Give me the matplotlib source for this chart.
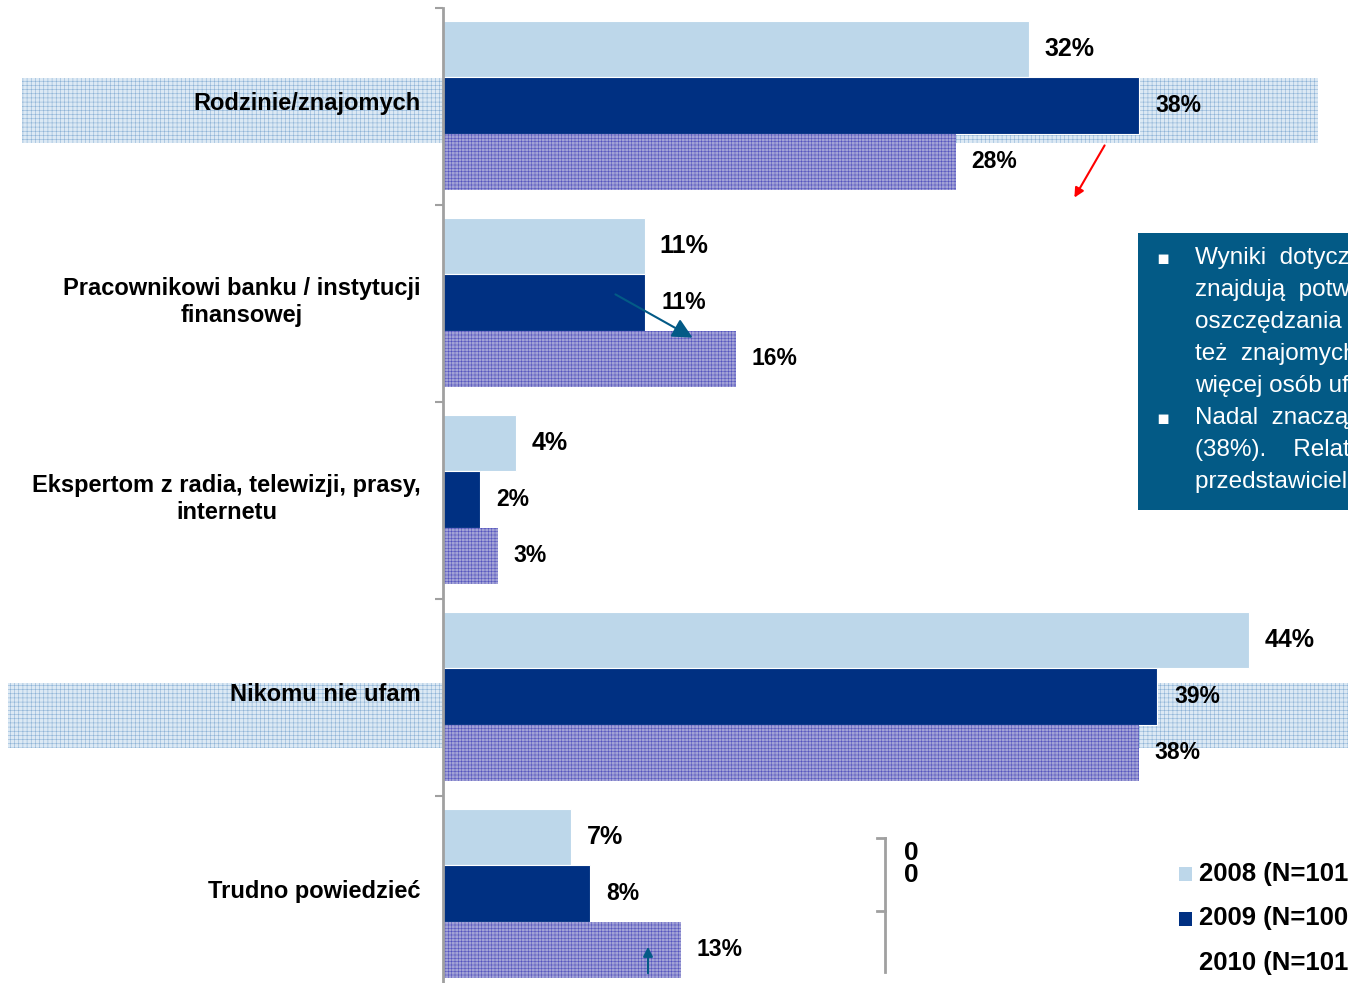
import numpy as np
import matplotlib
matplotlib.use("Agg")
from matplotlib import pyplot as plt
from matplotlib.patches import Rectangle
from matplotlib.lines import Line2D

categories = ["Rodzinie/znajomych",
              "Pracownikowi banku / instytucji\nfinansowej",
              "Ekspertom z radia, telewizji, prasy,\ninternetu",
              "Nikomu nie ufam",
              "Trudno powiedzieć"]
v2008 = [32, 11, 4, 44, 7]
v2009 = [38, 11, 2, 39, 8]
v2010 = [28, 16, 3, 38, 13]
series_labels = ["2008 (N=1019)", "2009 (N=1006)", "2010 (N=1016)"]
box_lines = ["Wyniki  dotyczące  zaufania",
             "znajdują  potwierdzenie  w",
             "oszczędzania  w  bankach",
             "też  znajomych  i  rodziny",
             "więcej osób ufa bankom",
             "Nadal  znacząca  grupa",
             "(38%).    Relatywnie",
             "przedstawicielom banków"]

light = "#BDD7EA"
navy = "#003082"
lav = "#A2A2D6"
teal = "#035A86"
grey = "#A0A0A0"

plt.rcParams["hatch.linewidth"] = 0.4

W, H = 1348, 983
fig = plt.figure(figsize=(W / 100, H / 100), dpi=100)
ax = fig.add_axes([443 / W, 0, 1 - 443 / W, (H - 8) / H])
ax.patch.set_alpha(0)

y = np.arange(len(categories))
h = 0.285
b1 = ax.barh(y + 0.21, v2008, height=h, color=light, edgecolor="white", linewidth=0.8)
b2 = ax.barh(y + 0.495, v2009, height=h, color=navy, edgecolor="white", linewidth=0.8)
b3 = ax.barh(y + 0.78, v2010, height=h, color=lav, edgecolor="#5454BE",
             linewidth=0, hatch="+++++")

lf = ["Liberation Sans Narrow", "Liberation Sans", "DejaVu Sans"]
ax.bar_label(b1, labels=[f"{v}%" for v in v2008], padding=11,
             fontsize=18, fontweight="bold", family=lf)
ax.bar_label(b2, labels=[f"{v}%" for v in v2009], padding=12,
             fontsize=16.5, fontweight="bold", family=lf)
ax.bar_label(b3, labels=[f"{v}%" for v in v2010], padding=11,
             fontsize=16.5, fontweight="bold", family=lf)

for s in ["top", "right", "bottom"]:
    ax.spines[s].set_visible(False)
ax.spines["left"].set_color(grey)
ax.spines["left"].set_linewidth(2)
ax.set_xticks([])
ax.set_yticks(range(6))
ax.set_yticklabels([])
ax.tick_params(axis="y", which="major", length=6, width=1.5, color=grey)
ax.set_yticks(y + 0.47, minor=True)
ax.set_yticklabels(categories, minor=True, fontsize=17, fontweight="bold",
                   family=lf, multialignment="center")
ax.tick_params(axis="y", which="minor", length=0, pad=16)
ax.set_xlim(0, (W - 443) / 18.32)
ax.set_ylim((H - 8) / 197, 0)

# highlighted rows (behind bars)
for x0, x1, y0, y1 in [(22, 1318, 78, 143), (8, 1348, 683, 748)]:
    ax.add_artist(Rectangle((x0 / W, 1 - y1 / H), (x1 - x0) / W, (y1 - y0) / H,
                            transform=fig.transFigure, facecolor="#DCE9F4",
                            edgecolor="#8DB3D6", linewidth=0, hatch="++++",
                            clip_on=False, zorder=0.5))

# comment box
fig.add_artist(Rectangle((1138 / W, 1 - 510 / H), (W - 1138) / W, (510 - 233) / H,
                         transform=fig.transFigure, facecolor=teal,
                         edgecolor="none", zorder=6))
for i, line in enumerate(box_lines):
    yy = 1 - (258 + 32 * i) / H
    fig.text(1195 / W, yy, line, color="white", fontsize=17.5, va="center",
             family=["Liberation Sans", "DejaVu Sans"], zorder=7)
for yy in (258, 418):
    fig.text(1163 / W, 1 - yy / H, "▪", color="white", fontsize=14,
             va="center", ha="center", family="DejaVu Sans", zorder=7)

# arrows
ax.annotate("", xy=(1073, H - 200), xytext=(1106, H - 143),
            xycoords="figure pixels", textcoords="figure pixels",
            arrowprops=dict(arrowstyle="-|>", color="red", lw=1.5,
                            mutation_scale=14), zorder=8)
ax.annotate("", xy=(695, H - 339), xytext=(613, H - 293),
            xycoords="figure pixels", textcoords="figure pixels",
            arrowprops=dict(arrowstyle="-|>", color=teal, lw=1.5,
                            mutation_scale=30), zorder=8)
ax.annotate("", xy=(648, H - 944), xytext=(648, H - 976),
            xycoords="figure pixels", textcoords="figure pixels",
            arrowprops=dict(arrowstyle="-|>", color=teal, lw=1.5,
                            mutation_scale=14), zorder=8)

# bracket and zeros
fig.add_artist(Line2D([885 / W, 885 / W], [1 - 838 / H, 1 - 972 / H], color=grey, lw=2))
for yy in (838, 911):
    fig.add_artist(Line2D([877 / W, 885 / W], [1 - yy / H, 1 - yy / H], color=grey, lw=2))
fig.text(911 / W, 1 - 864 / H, "0\n0", fontsize=19, fontweight="bold",
         ha="center", va="center", linespacing=0.85, family=lf)

# legend
for i, (lab, col) in enumerate(zip(series_labels, [light, navy, "white"])):
    yc = 874 + 44.5 * i
    fig.add_artist(Rectangle((1179 / W, 1 - (yc + 7) / H), 13 / W, 14 / H,
                             transform=fig.transFigure, facecolor=col, edgecolor="none"))
    fig.text(1199 / W, 1 - yc / H, lab, fontsize=18.5, fontweight="bold",
             va="center", family=lf)

fig.savefig("out.png", dpi=100)
